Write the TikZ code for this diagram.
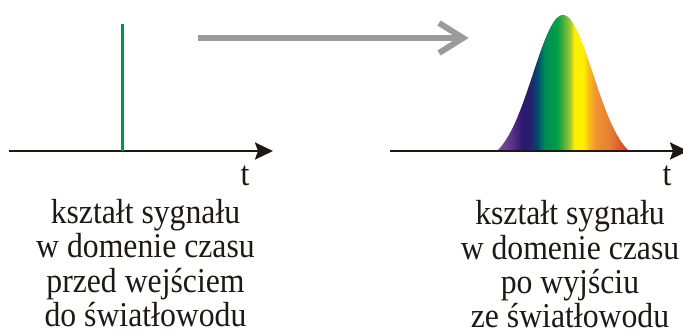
\documentclass[tikz,border=0pt]{standalone}
\usepackage{fontspec}
\setmainfont{Liberation Serif}[FakeStretch=0.91]
\usetikzlibrary{arrows.meta}
\definecolor{axisblack}{RGB}{30,25,20}
\definecolor{pulsegreen}{RGB}{0,150,70}
\definecolor{arrowgray}{RGB}{155,155,155}
\definecolor{spA}{RGB}{125,85,155}
\definecolor{spB}{RGB}{95,55,140}
\definecolor{spC}{RGB}{45,25,110}
\definecolor{spD}{RGB}{40,30,110}
\definecolor{spE}{RGB}{0,75,110}
\definecolor{spF}{RGB}{0,140,85}
\definecolor{spG}{RGB}{0,160,70}
\definecolor{spH}{RGB}{60,170,60}
\definecolor{spI}{RGB}{160,200,50}
\definecolor{spJ}{RGB}{255,240,0}
\definecolor{spK}{RGB}{250,195,20}
\definecolor{spL}{RGB}{240,150,50}
\definecolor{spM}{RGB}{230,125,50}
\definecolor{spN}{RGB}{220,75,40}
\definecolor{spO}{RGB}{215,65,35}
\pgfdeclarehorizontalshading{spectrum}{100bp}{%
color(0bp)=(spA); color(25bp)=(spA); color(29.9bp)=(spB); color(34.5bp)=(spC);
color(37.5bp)=(spD); color(40.2bp)=(spE); color(43.2bp)=(spF); color(47.7bp)=(spG);
color(49.6bp)=(spH); color(52.7bp)=(spI); color(54.2bp)=(spJ); color(57.6bp)=(spJ);
color(59.5bp)=(spK); color(62.1bp)=(spL); color(67.8bp)=(spM); color(73.5bp)=(spN);
color(75bp)=(spO); color(100bp)=(spO)}
\tikzset{
  axis/.style={draw=axisblack, line width=2.6bp, -{Stealth[length=18bp,width=17bp,inset=3bp]}},
  lbl/.style={anchor=base, inner sep=0pt, text depth=0pt, font=\fontsize{35}{35}\selectfont, text=axisblack},
  grayarrow/.style={draw=arrowgray, line width=6bp},
}
\begin{document}
\begin{tikzpicture}[x=1bp,y=-1bp]
\useasboundingbox (0,0) rectangle (683,333);
% right pulse
\shade[shading=spectrum] plot[domain=-66:66,samples=120,smooth] ({563+\x},{151-136*(exp(-(\x*\x)/(2*30*30))-0.0888)/(1-0.0888)}) -- cycle;
% axes
\coordinate (la0) at (9,151);
\coordinate (la1) at (273,151);
\coordinate (ra0) at (390,151);
\coordinate (ra1) at (688,151);
\draw[axis] (la0) -- (la1);
\draw[axis] (ra0) -- (ra1);
% green impulse
\coordinate (g0) at (122,151);
\coordinate (g1) at (122,24);
\draw[pulsegreen, line width=3bp] (g0) -- (g1);
% gray arrow
\coordinate (a0) at (198,38);
\coordinate (a1) at (461,38);
\coordinate (aU) at (439,23);
\coordinate (aD) at (439,53);
\draw[grayarrow] (a0) -- (a1);
\draw[grayarrow, line join=miter] (aU) -- (463,38) -- (aD);
% t labels
\node[lbl] (tl) at (245,185) {t};
\node[lbl] (tr) at (667,185) {t};
% captions
\node[lbl] (l1) at (145.5,223) {kształt sygnału};
\node[lbl] (l2) at (145.5,257.5) {w domenie czasu};
\node[lbl] (l3) at (145.5,292) {przed wejściem};
\node[lbl] (l4) at (145.5,326.5) {do światłowodu};
\node[lbl] (r1) at (570,224.5) {kształt sygnału};
\node[lbl] (r2) at (570,259) {w domenie czasu};
\node[lbl] (r3) at (570,293) {po wyjściu};
\node[lbl] (r4) at (570,327) {ze światłowodu};
\end{tikzpicture}
\end{document}
